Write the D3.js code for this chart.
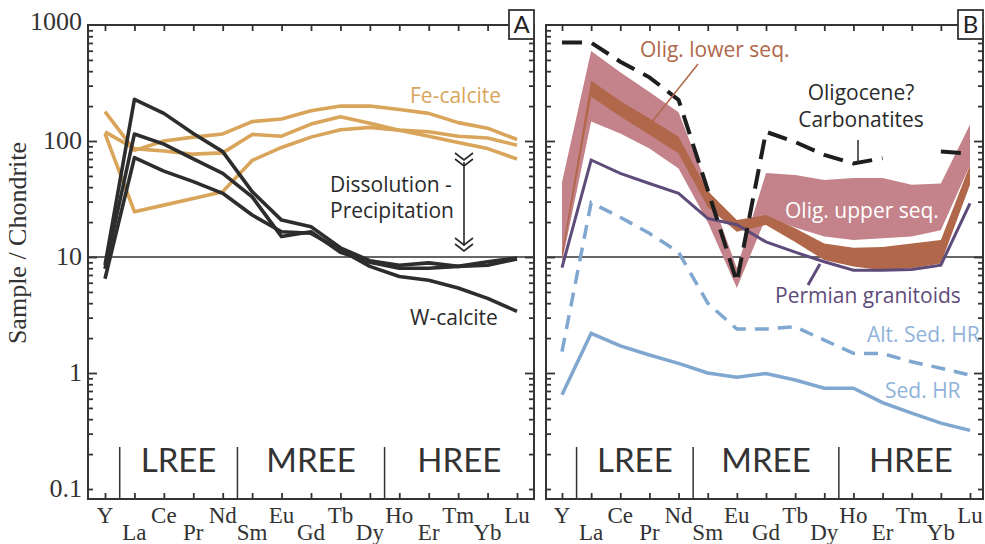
<!DOCTYPE html>
<html>
<head>
<meta charset="utf-8">
<script src="https://cdn.jsdelivr.net/npm/d3@7"></script>
<style>
  body { margin: 0; background: #fff; }
  svg { display: block; }
</style>
</head>
<body>
<svg id="chart"></svg>
<script>
// REE order on the x axis
const elements = ["Y", "La", "Ce", "Pr", "Nd", "Sm", "Eu", "Gd", "Tb", "Dy", "Ho", "Er", "Tm", "Yb", "Lu"];
const yTickValues = [0.1, 1, 10, 100, 1000];
const yTickLabels = ["0.1", "1", "10", "100", "1000"];
const groups = ["LREE", "MREE", "HREE"];
const groupBreaks = [["Y", "La"], ["Nd", "Sm"], ["Dy", "Ho"]];

// Panel A
const feCalcite1 = [179, 83, 100, 108, 115, 147, 155, 182, 200, 200, 187, 173, 144, 129, 103];
const feCalcite2 = [120, 86, 82, 77, 79, 114, 110, 140, 162, 142, 124, 110, 97, 86, 70];
const feCalcite3 = [116, 24.6, 28, 32, 36.6, 68, 88, 108, 125, 131, 124, 120, 110, 106, 92];
const wCalcite1 = [8.5, 229, 173, 116, 81, 36.6, 20.8, 18.2, 12, 9.3, 8.5, 8.9, 8.3, 9.1, 9.8];
const wCalcite2 = [7.9, 115, 94, 70, 52.6, 33, 15, 16.5, 11, 9, 8, 8, 8.3, 8.5, 9.6];
const wCalcite3 = [6.5, 72, 55, 44.6, 35.4, 23, 16.5, 16, 11.5, 8.3, 6.8, 6.3, 5.4, 4.4, 3.4];

// Panel B
const upperSeqLow = [9, 147, 116, 86, 58, 20, 5.4, 22, 18, 15, 14, 14.5, 15, 17, 62];
const upperSeqHigh = [44, 597, 391, 264, 177, 40, 8, 53, 51, 46, 48, 48, 42, 43, 139];
const lowerSeqLow = [9.5, 241, 163, 113, 78, 27, 16.5, 18.9, 13.5, 9.4, 8.3, 7.7, 8.0, 8.8, 42];
const lowerSeqHigh = [11, 330, 221, 156, 109, 37, 20.8, 23, 17.7, 13.1, 12.0, 12.2, 13.1, 14.0, 62];
const permianGranitoids = [8.1, 68.6, 52.6, 43, 35.4, 21.5, 19, 13.5, 11, 9.1, 7.7, 7.7, 7.8, 8.5, 29];
const carbonatites = [705, 705, 483, 354, 226, 38, 6.1, 120, 98, 76, 64, 71, null, 81, 78];
const altSedHR = [1.53, 29.4, 22, 16, 11, 4.0, 2.39, 2.4, 2.5, 1.92, 1.48, 1.47, 1.25, 1.1, 0.96];
const sedHR = [0.65, 2.2, 1.71, 1.43, 1.21, 1.0, 0.92, 0.99, 0.87, 0.74, 0.74, 0.555, 0.45, 0.37, 0.32];

const width = 985, height = 544;
const plotTop = 25, plotBottom = 499;
const serif = "'Liberation Serif', 'Times New Roman', serif";
const sans = "'Open Sans', sans-serif";
const groupFont = "Lato, sans-serif";

const colors = {
  fe: "#d9a55b",
  w: "#2d2d2d",
  pink: "#c4838b",
  brown: "#b0674a",
  purple: "#5f4b7a",
  blue: "#80a7d0",
  axis: "#333"
};

const svg = d3.select("#chart").attr("width", width).attr("height", height);

const y = d3.scaleLog().domain([0.082, 1000]).range([plotBottom, plotTop]);

const majorTicks = [1, 10, 100];
const minorTicks = [];
[0.1, 1, 10, 100].forEach((d) => {
  for (let k = 2; k <= 9; k++) minorTicks.push(d * k);
});
minorTicks.push(0.1);

function drawPanel(x, x0, x1) {
  const g = svg.append("g");

  // horizontal reference at 10
  g.append("line")
    .attr("x1", x0).attr("x2", x1)
    .attr("y1", y(10)).attr("y2", y(10))
    .attr("stroke", "#333").attr("stroke-width", 1.5);

  // left / right log ticks, pointing inwards
  const axes = [
    [d3.axisRight(y), x0],
    [d3.axisLeft(y), x1]
  ];
  axes.forEach(([axis, pos]) => {
    g.append("g").attr("transform", `translate(${pos},0)`)
      .call(axis.tickValues(majorTicks).tickSize(9).tickFormat(""))
      .call((s) => s.select(".domain").remove());
    g.append("g").attr("transform", `translate(${pos},0)`)
      .call(axis.tickValues(minorTicks).tickSize(5).tickFormat(""))
      .call((s) => s.select(".domain").remove());
  });

  // top / bottom category ticks
  g.append("g").attr("transform", `translate(0,${plotTop})`)
    .call(d3.axisBottom(x).tickSize(6).tickFormat(""))
    .call((s) => s.select(".domain").remove());
  g.append("g").attr("transform", `translate(0,${plotBottom})`)
    .call(d3.axisTop(x).tickSize(6).tickFormat(""))
    .call((s) => s.select(".domain").remove());

  g.selectAll(".tick line").attr("stroke", colors.axis).attr("stroke-width", 1.8);

  // group separators and names
  const seps = groupBreaks.map(([a, b]) => (x(a) + x(b)) / 2);
  g.selectAll(".sep").data(seps).enter().append("line")
    .attr("x1", (d) => d).attr("x2", (d) => d)
    .attr("y1", 447).attr("y2", plotBottom)
    .attr("stroke", "#333").attr("stroke-width", 1.5);
  const bounds = [...seps, x1];
  g.selectAll(".grp").data(groups).enter().append("text")
    .attr("x", (d, i) => (bounds[i] + bounds[i + 1]) / 2)
    .attr("y", 472)
    .attr("text-anchor", "middle")
    .style("font-family", groupFont).style("font-size", "33px")
    .attr("fill", "#333")
    .text((d) => d);

  // element labels on two rows
  g.selectAll(".el").data(elements).enter().append("text")
    .attr("x", (d) => x(d))
    .attr("y", (d, i) => (i % 2 ? 540 : 523))
    .attr("text-anchor", "middle")
    .style("font-family", serif).style("font-size", "23px")
    .attr("fill", "#333")
    .text((d) => d);

  return g;
}

function drawFrame(x0, x1, label) {
  svg.append("rect")
    .attr("x", x0).attr("y", plotTop)
    .attr("width", x1 - x0).attr("height", plotBottom - plotTop)
    .attr("fill", "none").attr("stroke", colors.axis).attr("stroke-width", 2);
  svg.append("rect")
    .attr("x", x1 - 25).attr("y", 10)
    .attr("width", 25).attr("height", 29)
    .attr("fill", "#fff").attr("stroke", colors.axis).attr("stroke-width", 1.8);
  svg.append("text")
    .attr("x", x1 - 12.5).attr("y", 33)
    .attr("text-anchor", "middle")
    .style("font-family", groupFont).style("font-size", "24px")
    .attr("fill", "#222")
    .text(label);
}

function lineFor(x) {
  return d3.line()
    .defined((d) => d != null)
    .x((d, i) => x(elements[i]))
    .y((d) => y(d));
}

function bandFor(x, low, high) {
  return d3.area()
    .x((d, i) => x(elements[i]))
    .y0((d, i) => y(low[i]))
    .y1((d, i) => y(high[i]))(elements);
}

function addText(t, xPos, yPos, color, size, anchor) {
  svg.append("text")
    .attr("x", xPos).attr("y", yPos)
    .attr("text-anchor", anchor || "start")
    .style("font-family", sans).style("font-size", (size || 21) + "px")
    .attr("fill", color)
    .text(t);
}

// ---------- Panel A ----------
const xA = d3.scalePoint().domain(elements).range([105, 517]);
drawPanel(xA, 88, 534);

const lineA = lineFor(xA);
[feCalcite1, feCalcite2, feCalcite3].forEach((s) => {
  svg.append("path").attr("d", lineA(s))
    .attr("fill", "none").attr("stroke", colors.fe)
    .attr("stroke-width", 3.6).attr("stroke-linejoin", "round");
});
[wCalcite1, wCalcite2, wCalcite3].forEach((s) => {
  svg.append("path").attr("d", lineA(s))
    .attr("fill", "none").attr("stroke", colors.w)
    .attr("stroke-width", 3.6).attr("stroke-linejoin", "round");
});

addText("Fe-calcite", 410, 103, colors.fe);
addText("Dissolution -", 330, 192, "#2a2a2a");
addText("Precipitation", 330, 218, "#2a2a2a");
addText("W-calcite", 410, 325, "#2a2a2a");

// dissolution arrow with double chevrons
const arrowX = 464;
const chev = (yy) => `M${arrowX - 9},${yy} L${arrowX},${yy + 7} L${arrowX + 9},${yy}`;
svg.append("path")
  .attr("d", `M${arrowX},162 L${arrowX},246 ` + chev(153) + chev(159) + chev(238) + chev(244))
  .attr("fill", "none").attr("stroke", "#2a2a2a").attr("stroke-width", 1.6);

// y tick labels + title
svg.selectAll(".ylab").data(yTickValues).enter().append("text")
  .attr("x", 82).attr("y", (d) => y(d) + (d === 1000 ? 5 : 8))
  .attr("text-anchor", "end")
  .style("font-family", serif).style("font-size", "26px")
  .attr("fill", "#333")
  .text((d, i) => yTickLabels[i]);
svg.append("text")
  .attr("transform", "translate(26,243) rotate(-90)")
  .attr("text-anchor", "middle")
  .style("font-family", serif).style("font-size", "26px")
  .attr("fill", "#333")
  .text("Sample / Chondrite");

drawFrame(88, 534, "A");

// ---------- Panel B ----------
const xB = d3.scalePoint().domain(elements).range([562, 970]);
drawPanel(xB, 546, 983);
const lineB = lineFor(xB);

svg.append("path").attr("d", bandFor(xB, upperSeqLow, upperSeqHigh)).attr("fill", colors.pink);
svg.append("path").attr("d", bandFor(xB, lowerSeqLow, lowerSeqHigh)).attr("fill", colors.brown);

svg.append("path").attr("d", lineB(permianGranitoids))
  .attr("fill", "none").attr("stroke", colors.purple).attr("stroke-width", 3);
svg.append("path").attr("d", lineB(sedHR))
  .attr("fill", "none").attr("stroke", colors.blue).attr("stroke-width", 3.5);
svg.append("path").attr("d", lineB(altSedHR))
  .attr("fill", "none").attr("stroke", colors.blue).attr("stroke-width", 3.5)
  .attr("stroke-dasharray", "14,9");
svg.append("path").attr("d", lineB(carbonatites))
  .attr("fill", "none").attr("stroke", "#1e1e1e").attr("stroke-width", 4)
  .attr("stroke-dasharray", "20,10");

// labels and leaders
addText("Olig. lower seq.", 640, 57, colors.brown);
svg.append("line").attr("x1", 698).attr("y1", 64).attr("x2", 651).attr("y2", 123)
  .attr("stroke", colors.brown).attr("stroke-width", 1.5);
addText("Oligocene?", 861, 100, "#2a2a2a", 21, "middle");
addText("Carbonatites", 861, 127, "#2a2a2a", 21, "middle");
svg.append("line").attr("x1", 858).attr("y1", 140).attr("x2", 858).attr("y2", 163)
  .attr("stroke", "#2a2a2a").attr("stroke-width", 1.5);
addText("Olig. upper seq.", 785, 218, "#fff");
addText("Permian granitoids", 775, 303, colors.purple);
svg.append("line").attr("x1", 808).attr("y1", 285).attr("x2", 820).attr("y2", 264)
  .attr("stroke", colors.purple).attr("stroke-width", 3);
addText("Alt. Sed. HR", 867, 342, "#90b3da");
addText("Sed. HR", 885, 398, "#90b3da");

drawFrame(546, 983, "B");
</script>
</body>
</html>
